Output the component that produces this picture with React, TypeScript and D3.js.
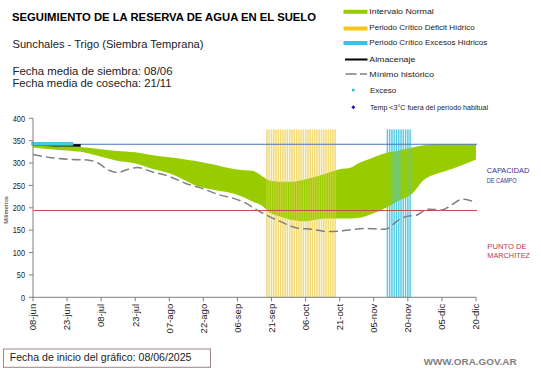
import * as d3 from 'd3'

const W = 541
const H = 368
const FONT = '"Liberation Sans", Arial, sans-serif'

// fechas del eje x (cada 15 dias desde 08-jun)
const tickLabels = [
  '08-jun', '23-jun', '08-jul', '23-jul', '07-ago', '22-ago', '06-sep',
  '21-sep', '06-oct', '21-oct', '05-nov', '20-nov', '05-dic', '20-dic',
]
const yTicks = [0, 50, 100, 150, 200, 250, 300, 350, 400]

// intervalo normal (dias desde el inicio)
const normalDias = [0, 10, 21, 30, 37, 45, 52, 60, 67, 71, 80, 89, 93, 97, 101, 104, 109, 113, 120, 128, 135, 140, 143, 149, 155, 161, 167, 172, 177, 181, 187, 195]
const normalSup = [341, 338, 336, 331, 327, 324, 318, 313, 308, 305, 296, 286, 284, 282, 270, 261, 258, 258, 264, 275, 286, 290, 299, 311, 322, 328, 335, 340, 342, 342, 342, 342]
const normalInf = [335, 330, 325, 314, 305, 299, 288, 277, 261, 251, 240, 231, 223, 213, 204, 190, 180, 174, 170, 176, 176, 176, 177, 186, 199, 216, 232, 262, 275, 281, 292, 308]

// minimo historico
const minDias = [0, 8, 17, 24, 29, 33, 37, 42, 46, 52, 60, 67, 74, 82, 89, 93, 100, 109, 117, 123, 129, 135, 140, 146, 155, 161, 164, 169, 174, 180, 184, 189, 192, 195]
const minHistorico = [319, 312, 308, 307, 299, 285, 279, 286, 290, 281, 270, 255, 244, 229, 220, 212, 191, 169, 154, 152, 147, 148, 151, 154, 152, 173, 180, 184, 197, 195, 206, 219, 217, 211]

// almacenaje observado
const almDias = [0, 5, 10, 15, 21]
const almacenaje = [341, 341, 340, 340, 339]

// exceso
const excesoDias = [0, 1, 2, 3, 4, 5, 6, 7, 8, 9, 10, 11, 12, 13, 14, 15, 16, 17]
const exceso = [343, 343, 343, 343, 343, 343, 343, 343, 343, 343, 343, 343, 343, 343, 343, 343, 343, 343]

// periodos criticos
const deficitDias = [103, 104, 105, 106, 107, 108, 109, 110, 111, 112, 113, 114, 115, 116, 117, 118, 119, 120, 121, 122, 123, 124, 125, 126, 127, 128, 129, 130, 131, 132, 133]
const excesoPerDias = [156, 157, 158, 159, 160, 161, 162, 163, 164, 165, 166]
const periodoTope = 375

const capacidadCampo = 342
const puntoMarchitez = 194

export default function App() {
  const x = d3.scaleLinear().domain([0, 195]).range([33, 476])
  const y = d3.scaleLinear().domain([0, 400]).range([297.3, 118.3])
  const halfBar = 1.1

  const area = d3
    .area<number>()
    .x((d) => x(d))
    .y0((_, i) => y(normalInf[i]))
    .y1((_, i) => y(normalSup[i]))
    .curve(d3.curveMonotoneX)

  const minLine = d3
    .line<number>()
    .x((d) => x(d))
    .y((_, i) => y(minHistorico[i]))
    .curve(d3.curveMonotoneX)

  const almLine = d3
    .line<number>()
    .x((d) => x(d))
    .y((_, i) => y(almacenaje[i]))

  const band = (dias: number[], bg: string, line: string, key: string) => (
    <g key={key}>
      <rect
        x={x(dias[0]) - halfBar}
        y={y(periodoTope)}
        width={x(dias[dias.length - 1]) - x(dias[0]) + halfBar * 2}
        height={y(0) - y(periodoTope)}
        fill={bg}
        opacity={0.45}
      />
      {dias.map((d) => (
        <line
          key={d}
          x1={x(d)}
          x2={x(d)}
          y1={y(periodoTope)}
          y2={y(0)}
          stroke={line}
          strokeWidth={1.1}
          opacity={0.85}
        />
      ))}
    </g>
  )

  return (
    <svg
      width={W}
      height={H}
      style={{ position: 'absolute', left: 0, top: 0, background: '#fff' }}
      fontFamily={FONT}
    >
      {/* titulos */}
      <text x={12} y={20.5} fontSize={11.5} fontWeight="bold" textLength={304} lengthAdjust="spacingAndGlyphs">
        SEGUIMIENTO DE LA RESERVA DE AGUA EN EL SUELO
      </text>
      <text x={12.5} y={48.3} fontSize={10.8} fill="#222" textLength={191} lengthAdjust="spacingAndGlyphs">
        Sunchales  - Trigo (Siembra Temprana)
      </text>
      <text x={12.5} y={75.3} fontSize={10.8} fill="#222" textLength={160} lengthAdjust="spacingAndGlyphs">
        Fecha media de siembra: 08/06
      </text>
      <text x={12.5} y={87.3} fontSize={10.8} fill="#222" textLength={159} lengthAdjust="spacingAndGlyphs">
        Fecha media de cosecha: 21/11
      </text>

      {/* leyenda */}
      <g fontSize={7.5} fill="#222">
        <rect x={343.5} y={9.8} width={24} height={4} fill="#99cc00" />
        <text x={369.3} y={14.3} textLength={64.5} lengthAdjust="spacingAndGlyphs">Intervalo Normal</text>
        <rect x={343.5} y={26.5} width={24} height={4} fill="#f5c518" />
        <text x={369.3} y={30.3} textLength={105.5} lengthAdjust="spacingAndGlyphs">Periodo Crítico Déficit Hídrico</text>
        <rect x={343.5} y={41} width={24} height={4} fill="#33c4ee" />
        <text x={369.3} y={45} textLength={118} lengthAdjust="spacingAndGlyphs">Periodo Crítico Excesos Hídricos</text>
        <line x1={345} x2={367.5} y1={59.5} y2={59.5} stroke="#000" strokeWidth={2} />
        <text x={369.3} y={62} textLength={46} lengthAdjust="spacingAndGlyphs">Almacenaje</text>
        <line x1={345.5} x2={367} y1={74} y2={74} stroke="#808080" strokeWidth={1.5} strokeDasharray="11 3.5" />
        <text x={369.3} y={76.5} textLength={64.7} lengthAdjust="spacingAndGlyphs">Mínimo histórico</text>
        <rect x={352} y={88.8} width={2.6} height={2.6} fill="#33bbdd" />
        <text x={370} y={92.6} fontSize={8}>Exceso</text>
        <path d="M353.3,105.3 L355.3,107.3 L353.3,109.3 L351.3,107.3 Z" fill="#1a1a9a" />
        <text x={370} y={109.6} fontSize={8} textLength={118} lengthAdjust="spacingAndGlyphs">Temp &lt;3°C fuera del período habitual</text>
      </g>

      {/* fondos de periodos criticos */}
      {band(deficitDias, '#fbeeb0', '#f0d466', 'def')}
      {band(excesoPerDias, '#bfeef7', '#45c6e0', 'exc')}

      {/* intervalo normal */}
      <path d={area(normalDias) ?? ''} fill="#99cc00" />

      {/* lineas de periodos sobre el area */}
      <g opacity={0.55}>
        {deficitDias.map((d) => (
          <line key={'d' + d} x1={x(d)} x2={x(d)} y1={y(periodoTope)} y2={y(0)} stroke="#f3dc70" strokeWidth={1.1} />
        ))}
        {excesoPerDias.map((d) => (
          <line key={'e' + d} x1={x(d)} x2={x(d)} y1={y(periodoTope)} y2={y(0)} stroke="#48c8e4" strokeWidth={1.1} />
        ))}
      </g>

      {/* capacidad de campo y punto de marchitez */}
      <line x1={x(0)} x2={477} y1={y(capacidadCampo)} y2={y(capacidadCampo)} stroke="#4a74b4" strokeWidth={1} />
      <line x1={x(0)} x2={477} y1={y(puntoMarchitez)} y2={y(puntoMarchitez)} stroke="#c0504d" strokeWidth={1} />

      {/* minimo historico */}
      <path d={minLine(minDias) ?? ''} fill="none" stroke="#808080" strokeWidth={1.5} strokeDasharray="9 4" />

      {/* almacenaje */}
      <path d={almLine(almDias) ?? ''} fill="none" stroke="#000" strokeWidth={2.5} />

      {/* exceso */}
      {excesoDias.map((d, i) => (
        <rect key={d} x={x(d) - 1.8} y={y(exceso[i]) - 1.8} width={3.6} height={3.6} fill="#44c8e6" />
      ))}

      {/* ejes */}
      <g stroke="#7f7f7f" strokeWidth={1}>
        <line x1={x(0)} x2={x(0)} y1={y(400)} y2={y(0)} />
        <line x1={x(0)} x2={x(195)} y1={y(0)} y2={y(0)} />
        {yTicks.map((t) => (
          <line key={t} x1={x(0) - 4} x2={x(0)} y1={y(t)} y2={y(t)} />
        ))}
        {tickLabels.map((_, i) => (
          <line key={i} x1={x(i * 15)} x2={x(i * 15)} y1={y(0)} y2={y(0) + 4} />
        ))}
      </g>
      <g fontSize={9.5} fill="#222">
        {yTicks.map((t) => (
          <text
            key={t}
            x={25}
            y={y(t) + 3.3}
            textAnchor="end"
            textLength={String(t).length * 4.1}
            lengthAdjust="spacingAndGlyphs"
          >
            {t}
          </text>
        ))}
        {tickLabels.map((l, i) => (
          <text
            key={l}
            transform={`translate(${x(i * 15) + 3.3},${y(0) + 6.5}) rotate(-90)`}
            textAnchor="end"
          >
            {l}
          </text>
        ))}
      </g>
      <text
        transform={`translate(7.5,210) rotate(-90)`}
        fontSize={6}
        textAnchor="middle"
        fill="#222"
      >
        Milímetros
      </text>

      {/* etiquetas de referencia */}
      <g fontSize={8} fill="#333399">
        <text x={486.7} y={173.3} textLength={42.6} lengthAdjust="spacingAndGlyphs">CAPACIDAD</text>
        <text x={486.7} y={182.7} textLength={30} lengthAdjust="spacingAndGlyphs">DE  CAMPO</text>
      </g>
      <g fontSize={8} fill="#c0394a">
        <text x={487.3} y={249.3} textLength={39.4} lengthAdjust="spacingAndGlyphs">PUNTO  DE</text>
        <text x={487.3} y={258.3} textLength={42.7} lengthAdjust="spacingAndGlyphs">MARCHITEZ</text>
      </g>

      {/* pie */}
      <rect x={3.5} y={349} width={207} height={18.3} fill="#fff" stroke="#9c8484" strokeWidth={1} />
      <text x={9.7} y={361.3} fontSize={10.5} fill="#222" textLength={181.8} lengthAdjust="spacingAndGlyphs">
        Fecha de inicio del gráfico:  08/06/2025
      </text>
      <text x={423.7} y={364.5} fontSize={9} fontWeight="bold" fill="#808080" textLength={92.9} lengthAdjust="spacingAndGlyphs">
        WWW.ORA.GOV.AR
      </text>
    </svg>
  )
}
